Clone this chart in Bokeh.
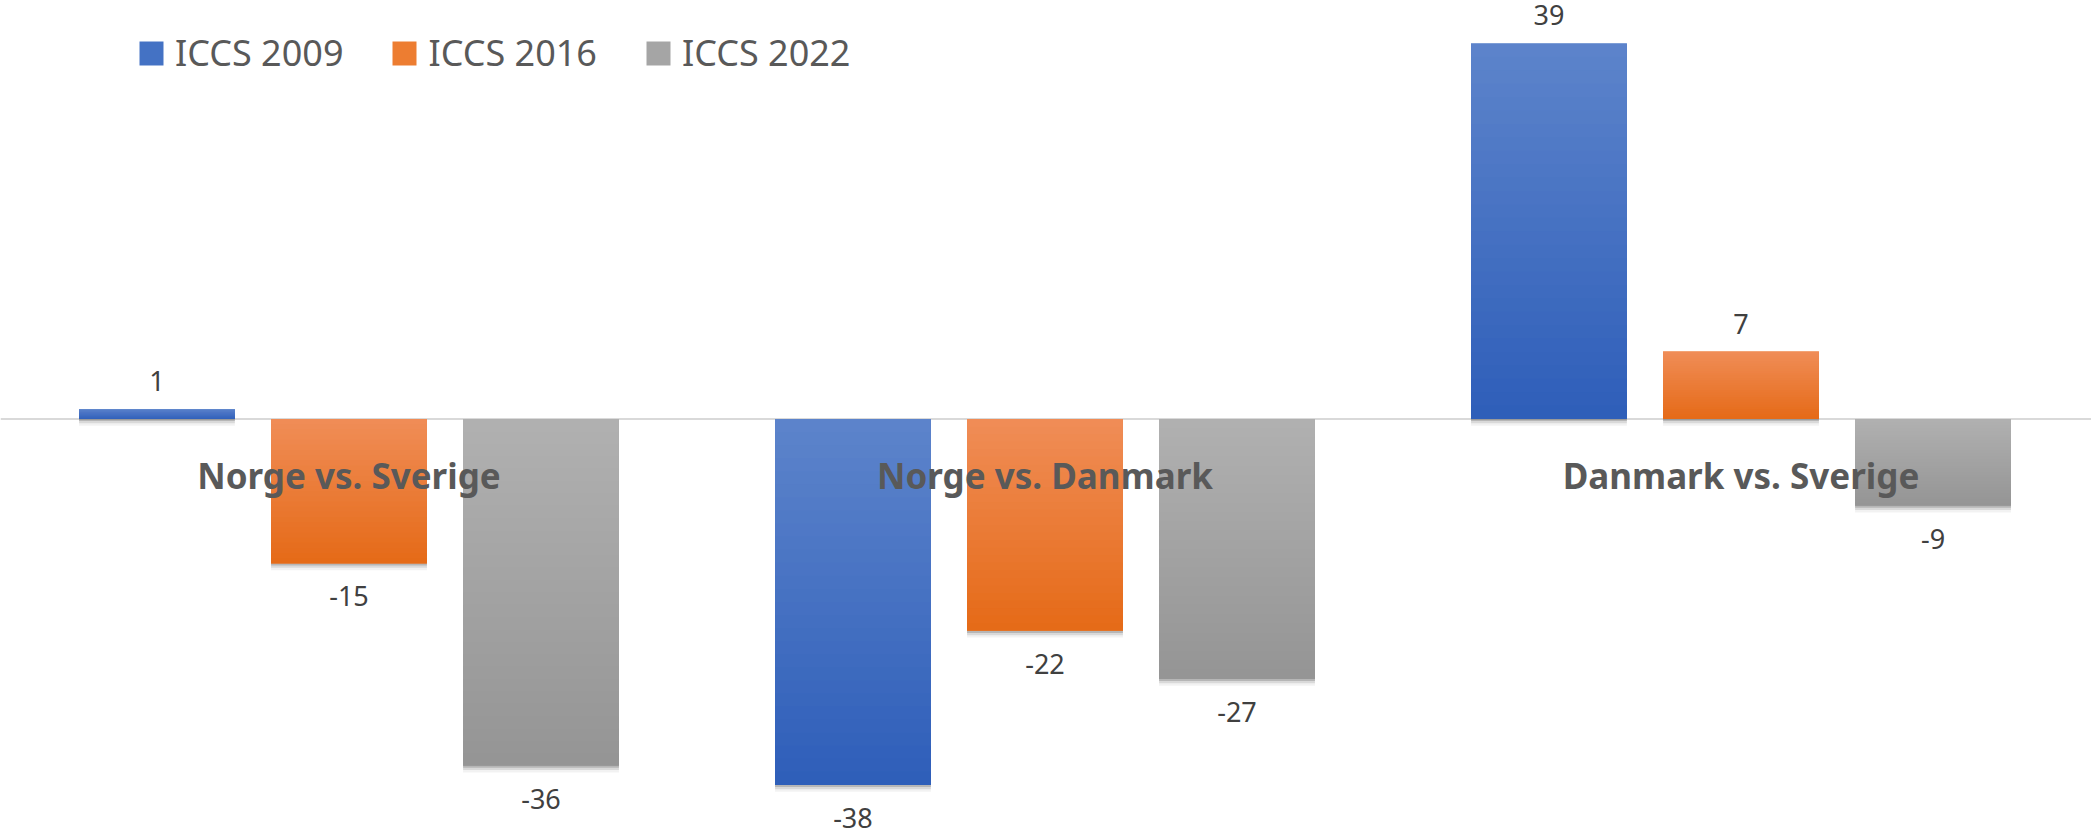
import numpy as np
from bokeh.plotting import figure
from bokeh.models import ColumnDataSource, Range1d, Span, Legend, LegendItem
from bokeh.core.properties import value
from bokeh.embed import file_html
from bokeh.resources import INLINE

# ---- data ----
categories = ["Norge vs. Sverige", "Norge vs. Danmark", "Danmark vs. Sverige"]
series_names = ["ICCS 2009", "ICCS 2016", "ICCS 2022"]
iccs_2009 = [1, -38, 39]
iccs_2016 = [-15, -22, 7]
iccs_2022 = [-36, -27, -9]
series_values = [iccs_2009, iccs_2016, iccs_2022]

# ---- styles ----
base_colors = ["#4472C4", "#ED7D31", "#A5A5A5"]
top_colors = ["#5D84CB", "#F08D57", "#B1B1B1"]
bottom_colors = ["#2E5EB9", "#E56A17", "#949494"]
FONT = "Noto Sans"
BAR_W = 0.224
DODGE = 0.2759

W, H = 2091, 832
p = figure(width=W, height=H, output_backend="svg", toolbar_location=None,
           x_range=Range1d(-0.5007, 2.5036), y_range=Range1d(-42.94, 43.46),
           x_axis_location=None, y_axis_location=None, min_border=0)
p.xgrid.visible = False
p.ygrid.visible = False
p.outline_line_color = None
p.background_fill_color = "white"
p.border_fill_color = "white"

p.add_layout(Span(location=0, dimension="width", line_color="#D9D9D9",
                  line_width=2, level="underlay"))


def hex2rgb(h):
    h = h.lstrip("#")
    return np.array([int(h[i:i + 2], 16) for i in (0, 2, 4)], dtype=float)


def rgb2hex(c):
    return "#%02x%02x%02x" % tuple(int(round(v)) for v in c)


legend_items = []
N = 28
for si, (name, vals) in enumerate(zip(series_names, series_values)):
    xs = [i + (si - 1) * DODGE for i in range(len(categories))]
    tops = [max(v, 0) for v in vals]
    bots = [min(v, 0) for v in vals]
    # soft shadow
    for off, alpha in ((0.22, 0.16), (0.45, 0.10), (0.7, 0.05)):
        p.vbar(x=xs, top=[t - off for t in tops], bottom=[b - off for b in bots],
               width=BAR_W, fill_color="#000000", fill_alpha=alpha, line_color=None)
    src = ColumnDataSource(dict(x=xs, top=tops, bottom=bots))
    r = p.vbar(x="x", top="top", bottom="bottom", width=BAR_W, source=src,
               fill_color=base_colors[si], line_color=None)
    legend_items.append(LegendItem(label=name, renderers=[r]))
    # gradient strips
    c0, c1 = hex2rgb(top_colors[si]), hex2rgb(bottom_colors[si])
    sx, st, sb, sc = [], [], [], []
    for x, t, b in zip(xs, tops, bots):
        h = t - b
        for k in range(N):
            f = (k + 0.5) / N
            sx.append(x)
            st.append(t - h * k / N)
            sb.append(max(b, t - h * (k + 1.6) / N))
            sc.append(rgb2hex(c0 + (c1 - c0) * f))
    p.vbar(x=sx, top=st, bottom=sb, width=BAR_W, fill_color=sc, line_color=None)
    # data labels
    lsrc = ColumnDataSource(dict(x=xs, y=vals, text=[str(v) for v in vals],
                                 yoff=[-28 if v >= 0 else 33 for v in vals]))
    p.text(x="x", y="y", text="text", source=lsrc, y_offset="yoff",
           text_align="center", text_baseline="alphabetic",
           text_font=value(FONT), text_font_size="27px", text_color="#404040")

# category labels
csrc = ColumnDataSource(dict(x=list(range(len(categories))), y=[0] * len(categories),
                             text=categories))
p.text(x="x", y="y", text="text", source=csrc, y_offset=56,
       text_align="center", text_baseline="alphabetic",
       text_font=value(FONT), text_font_style="bold", text_font_size="35px",
       text_color="#595959")

legend = Legend(items=legend_items, orientation="horizontal",
                location=(136, 755), padding=0, margin=0, spacing=46,
                glyph_width=30, glyph_height=30, label_standoff=9,
                label_text_font=FONT, label_text_font_size="36px",
                label_text_color="#595959", border_line_color=None,
                background_fill_alpha=0)
p.add_layout(legend)

open("out.html", "w").write(file_html(p, INLINE))
